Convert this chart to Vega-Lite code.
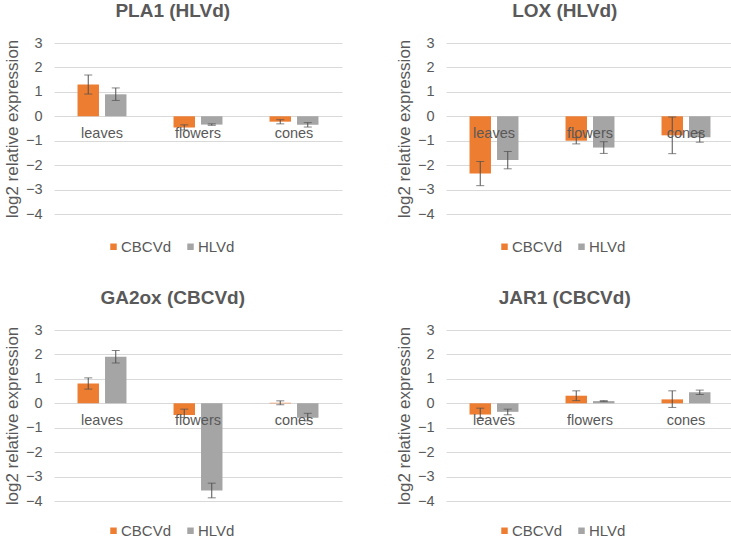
{
  "$schema": "https://vega.github.io/schema/vega-lite/v6.json",
  "background": "white",
  "padding": {"left": 3, "top": 2, "right": 3, "bottom": 0},
  "config": {
    "font": "Liberation Sans",
    "view": {"stroke": null},
    "title": {"fontSize": 19, "fontWeight": "bold", "color": "#595959", "anchor": "middle", "frame": "bounds"},
    "axisY": {"values": [-4, -3, -2, -1, 0, 1, 2, 3], "titleFontSize": 17, "titleFontWeight": "normal", "titleColor": "#595959", "titlePadding": 4, "labelFontSize": 14.5, "labelColor": "#595959", "labelPadding": 12, "domain": false, "ticks": false, "gridColor": "#d9d9d9", "labelOverlap": false}
  },
  "data": {
    "values": [
      {"gene": "PLA1", "tissue": "leaves", "virus": "CBCVd", "value": 1.3, "lo": 0.91, "hi": 1.69},
      {"gene": "PLA1", "tissue": "leaves", "virus": "HLVd", "value": 0.9, "lo": 0.65, "hi": 1.16},
      {"gene": "PLA1", "tissue": "flowers", "virus": "CBCVd", "value": -0.46, "lo": -0.56, "hi": -0.35},
      {"gene": "PLA1", "tissue": "flowers", "virus": "HLVd", "value": -0.34, "lo": -0.37, "hi": -0.31},
      {"gene": "PLA1", "tissue": "cones", "virus": "CBCVd", "value": -0.22, "lo": -0.31, "hi": -0.14},
      {"gene": "PLA1", "tissue": "cones", "virus": "HLVd", "value": -0.35, "lo": -0.44, "hi": -0.26},
      {"gene": "LOX", "tissue": "leaves", "virus": "CBCVd", "value": -2.34, "lo": -2.84, "hi": -1.85},
      {"gene": "LOX", "tissue": "leaves", "virus": "HLVd", "value": -1.79, "lo": -2.15, "hi": -1.44},
      {"gene": "LOX", "tissue": "flowers", "virus": "CBCVd", "value": -1.0, "lo": -1.13, "hi": -0.87},
      {"gene": "LOX", "tissue": "flowers", "virus": "HLVd", "value": -1.28, "lo": -1.52, "hi": -1.04},
      {"gene": "LOX", "tissue": "cones", "virus": "CBCVd", "value": -0.78, "lo": -1.53, "hi": -0.03},
      {"gene": "LOX", "tissue": "cones", "virus": "HLVd", "value": -0.86, "lo": -1.06, "hi": -0.67},
      {"gene": "GA2ox", "tissue": "leaves", "virus": "CBCVd", "value": 0.81, "lo": 0.58, "hi": 1.04},
      {"gene": "GA2ox", "tissue": "leaves", "virus": "HLVd", "value": 1.9, "lo": 1.65, "hi": 2.16},
      {"gene": "GA2ox", "tissue": "flowers", "virus": "CBCVd", "value": -0.48, "lo": -0.58, "hi": -0.24},
      {"gene": "GA2ox", "tissue": "flowers", "virus": "HLVd", "value": -3.57, "lo": -3.87, "hi": -3.27},
      {"gene": "GA2ox", "tissue": "cones", "virus": "CBCVd", "value": 0.02, "lo": -0.06, "hi": 0.1},
      {"gene": "GA2ox", "tissue": "cones", "virus": "HLVd", "value": -0.59, "lo": -0.72, "hi": -0.41},
      {"gene": "JAR1", "tissue": "leaves", "virus": "CBCVd", "value": -0.46, "lo": -0.62, "hi": -0.2},
      {"gene": "JAR1", "tissue": "leaves", "virus": "HLVd", "value": -0.35, "lo": -0.47, "hi": -0.24},
      {"gene": "JAR1", "tissue": "flowers", "virus": "CBCVd", "value": 0.31, "lo": 0.11, "hi": 0.51},
      {"gene": "JAR1", "tissue": "flowers", "virus": "HLVd", "value": 0.09, "lo": 0.07, "hi": 0.11},
      {"gene": "JAR1", "tissue": "cones", "virus": "CBCVd", "value": 0.16, "lo": -0.17, "hi": 0.51},
      {"gene": "JAR1", "tissue": "cones", "virus": "HLVd", "value": 0.45, "lo": 0.36, "hi": 0.54}
    ]
  },
  "columns": 2,
  "spacing": {"column": 53, "row": 34},
  "resolve": {"legend": {"color": "independent"}},
  "concat": [
    {
      "title": {"text": "PLA1 (HLVd)", "offset": 14},
      "transform": [{"filter": "datum.gene === 'PLA1'"}],
      "width": 288, "height": 171,
      "encoding": {
        "x": {"field": "tissue", "type": "nominal", "sort": ["leaves", "flowers", "cones"], "scale": {"paddingInner": 0.49, "paddingOuter": 0.245},
          "axis": {"title": null, "labelAngle": 0, "domain": false, "ticks": false, "grid": false, "offset": -97.7, "labelPadding": 10, "labelFontSize": 14.5, "labelColor": "#595959", "zindex": 1}},
        "xOffset": {"field": "virus", "type": "nominal", "sort": ["CBCVd", "HLVd"], "scale": {"paddingInner": 0.22}}
      },
      "layer": [
        {"mark": {"type": "bar"},
          "encoding": {
            "y": {"field": "value", "type": "quantitative", "scale": {"domain": [-4, 3], "nice": false}, "axis": {"title": "log2 relative expression"}},
            "color": {"field": "virus", "type": "nominal", "scale": {"domain": ["CBCVd", "HLVd"], "range": ["#ED7D31", "#A5A5A5"]},
              "legend": {"orient": "none", "legendX": 52, "legendY": 196, "direction": "horizontal", "title": null, "symbolType": "square", "symbolSize": 42, "symbolStrokeWidth": 0, "labelFontSize": 15, "labelColor": "#595959", "labelOffset": 0, "columnPadding": 11, "padding": 0}}
          }},
        {"mark": {"type": "rule", "color": "#505050", "strokeWidth": 1}, "encoding": {"y": {"field": "lo", "type": "quantitative", "axis": {"title": "log2 relative expression"}}, "y2": {"field": "hi"}}},
        {"mark": {"type": "tick", "color": "#505050", "size": 8, "thickness": 1}, "encoding": {"y": {"field": "lo", "type": "quantitative", "axis": {"title": "log2 relative expression"}}}},
        {"mark": {"type": "tick", "color": "#505050", "size": 8, "thickness": 1}, "encoding": {"y": {"field": "hi", "type": "quantitative", "axis": {"title": "log2 relative expression"}}}}
      ]
    },
    {
      "title": {"text": "LOX (HLVd)", "offset": 14},
      "transform": [{"filter": "datum.gene === 'LOX'"}],
      "width": 288, "height": 171,
      "encoding": {
        "x": {"field": "tissue", "type": "nominal", "sort": ["leaves", "flowers", "cones"], "scale": {"paddingInner": 0.49, "paddingOuter": 0.245},
          "axis": {"title": null, "labelAngle": 0, "domain": false, "ticks": false, "grid": false, "offset": -97.7, "labelPadding": 10, "labelFontSize": 14.5, "labelColor": "#595959", "zindex": 1}},
        "xOffset": {"field": "virus", "type": "nominal", "sort": ["CBCVd", "HLVd"], "scale": {"paddingInner": 0.22}}
      },
      "layer": [
        {"mark": {"type": "bar"},
          "encoding": {
            "y": {"field": "value", "type": "quantitative", "scale": {"domain": [-4, 3], "nice": false}, "axis": {"title": "log2 relative expression"}},
            "color": {"field": "virus", "type": "nominal", "scale": {"domain": ["CBCVd", "HLVd"], "range": ["#ED7D31", "#A5A5A5"]},
              "legend": {"orient": "none", "legendX": 51, "legendY": 196, "direction": "horizontal", "title": null, "symbolType": "square", "symbolSize": 42, "symbolStrokeWidth": 0, "labelFontSize": 15, "labelColor": "#595959", "labelOffset": 0, "columnPadding": 11, "padding": 0}}
          }},
        {"mark": {"type": "rule", "color": "#505050", "strokeWidth": 1}, "encoding": {"y": {"field": "lo", "type": "quantitative", "axis": {"title": "log2 relative expression"}}, "y2": {"field": "hi"}}},
        {"mark": {"type": "tick", "color": "#505050", "size": 8, "thickness": 1}, "encoding": {"y": {"field": "lo", "type": "quantitative", "axis": {"title": "log2 relative expression"}}}},
        {"mark": {"type": "tick", "color": "#505050", "size": 8, "thickness": 1}, "encoding": {"y": {"field": "hi", "type": "quantitative", "axis": {"title": "log2 relative expression"}}}}
      ]
    },
    {
      "title": {"text": "GA2ox (CBCVd)", "offset": 14},
      "transform": [{"filter": "datum.gene === 'GA2ox'"}],
      "width": 288, "height": 171,
      "encoding": {
        "x": {"field": "tissue", "type": "nominal", "sort": ["leaves", "flowers", "cones"], "scale": {"paddingInner": 0.49, "paddingOuter": 0.245},
          "axis": {"title": null, "labelAngle": 0, "domain": false, "ticks": false, "grid": false, "offset": -97.7, "labelPadding": 10, "labelFontSize": 14.5, "labelColor": "#595959", "zindex": 1}},
        "xOffset": {"field": "virus", "type": "nominal", "sort": ["CBCVd", "HLVd"], "scale": {"paddingInner": 0.22}}
      },
      "layer": [
        {"mark": {"type": "bar"},
          "encoding": {
            "y": {"field": "value", "type": "quantitative", "scale": {"domain": [-4, 3], "nice": false}, "axis": {"title": "log2 relative expression"}},
            "color": {"field": "virus", "type": "nominal", "scale": {"domain": ["CBCVd", "HLVd"], "range": ["#ED7D31", "#A5A5A5"]},
              "legend": {"orient": "none", "legendX": 52, "legendY": 193, "direction": "horizontal", "title": null, "symbolType": "square", "symbolSize": 42, "symbolStrokeWidth": 0, "labelFontSize": 15, "labelColor": "#595959", "labelOffset": 0, "columnPadding": 11, "padding": 0}}
          }},
        {"mark": {"type": "rule", "color": "#505050", "strokeWidth": 1}, "encoding": {"y": {"field": "lo", "type": "quantitative", "axis": {"title": "log2 relative expression"}}, "y2": {"field": "hi"}}},
        {"mark": {"type": "tick", "color": "#505050", "size": 8, "thickness": 1}, "encoding": {"y": {"field": "lo", "type": "quantitative", "axis": {"title": "log2 relative expression"}}}},
        {"mark": {"type": "tick", "color": "#505050", "size": 8, "thickness": 1}, "encoding": {"y": {"field": "hi", "type": "quantitative", "axis": {"title": "log2 relative expression"}}}}
      ]
    },
    {
      "title": {"text": "JAR1 (CBCVd)", "offset": 14},
      "transform": [{"filter": "datum.gene === 'JAR1'"}],
      "width": 288, "height": 171,
      "encoding": {
        "x": {"field": "tissue", "type": "nominal", "sort": ["leaves", "flowers", "cones"], "scale": {"paddingInner": 0.49, "paddingOuter": 0.245},
          "axis": {"title": null, "labelAngle": 0, "domain": false, "ticks": false, "grid": false, "offset": -97.7, "labelPadding": 10, "labelFontSize": 14.5, "labelColor": "#595959", "zindex": 1}},
        "xOffset": {"field": "virus", "type": "nominal", "sort": ["CBCVd", "HLVd"], "scale": {"paddingInner": 0.22}}
      },
      "layer": [
        {"mark": {"type": "bar"},
          "encoding": {
            "y": {"field": "value", "type": "quantitative", "scale": {"domain": [-4, 3], "nice": false}, "axis": {"title": "log2 relative expression"}},
            "color": {"field": "virus", "type": "nominal", "scale": {"domain": ["CBCVd", "HLVd"], "range": ["#ED7D31", "#A5A5A5"]},
              "legend": {"orient": "none", "legendX": 51, "legendY": 193, "direction": "horizontal", "title": null, "symbolType": "square", "symbolSize": 42, "symbolStrokeWidth": 0, "labelFontSize": 15, "labelColor": "#595959", "labelOffset": 0, "columnPadding": 11, "padding": 0}}
          }},
        {"mark": {"type": "rule", "color": "#505050", "strokeWidth": 1}, "encoding": {"y": {"field": "lo", "type": "quantitative", "axis": {"title": "log2 relative expression"}}, "y2": {"field": "hi"}}},
        {"mark": {"type": "tick", "color": "#505050", "size": 8, "thickness": 1}, "encoding": {"y": {"field": "lo", "type": "quantitative", "axis": {"title": "log2 relative expression"}}}},
        {"mark": {"type": "tick", "color": "#505050", "size": 8, "thickness": 1}, "encoding": {"y": {"field": "hi", "type": "quantitative", "axis": {"title": "log2 relative expression"}}}}
      ]
    }
  ]
}
